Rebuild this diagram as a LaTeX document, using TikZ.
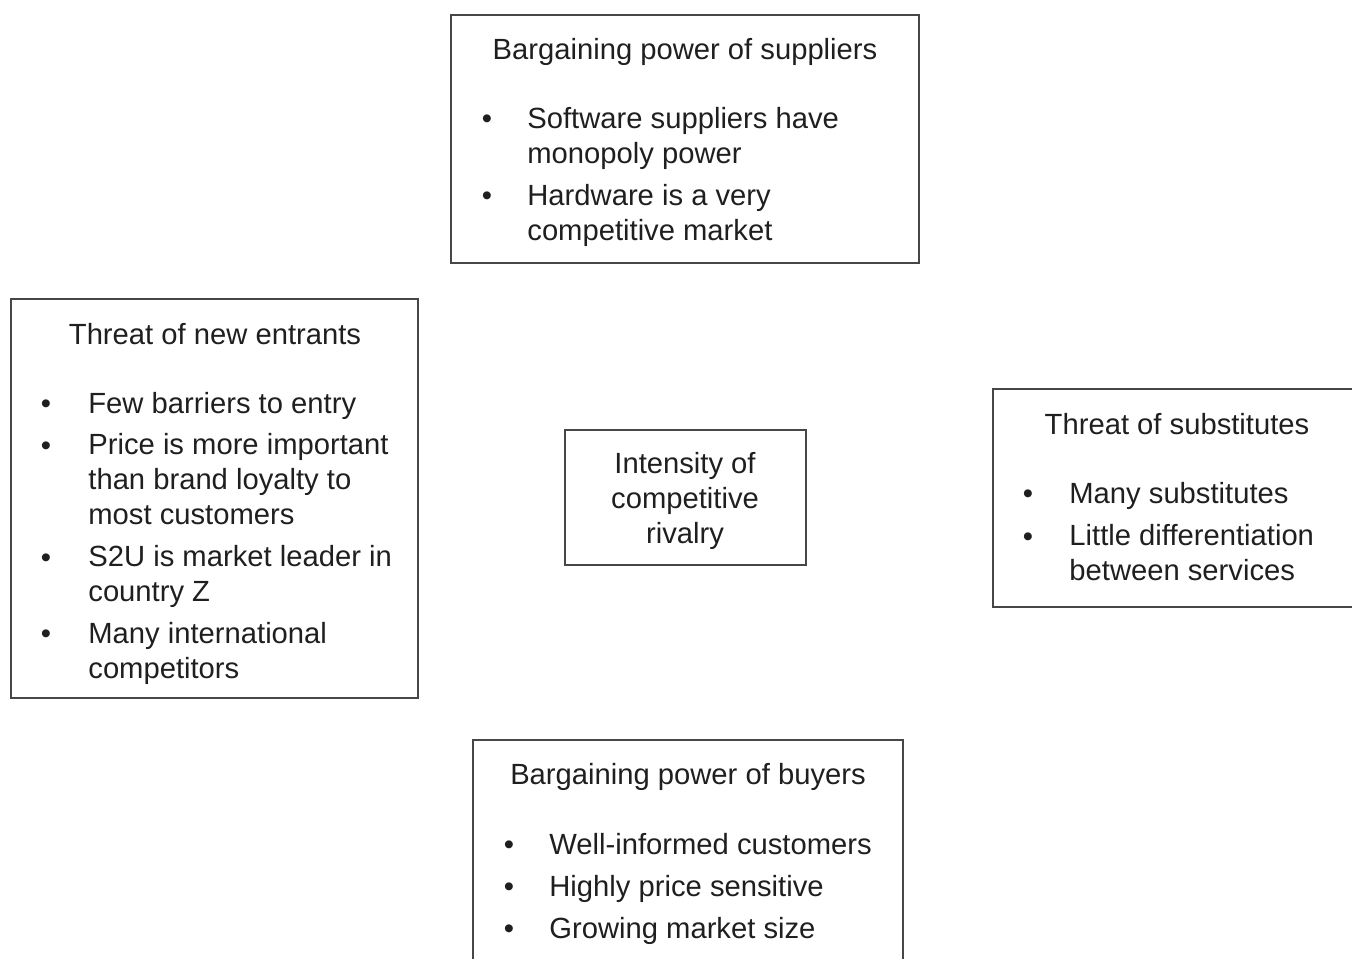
\documentclass[tikz,border=0pt]{standalone}
\usepackage{fontspec}
\setmainfont{Liberation Sans}
\usepackage{tikz}

\tikzset{
  boxline/.style={draw=black!72, line width=0.7pt},
  headtext/.style={anchor=base, inner sep=0pt, text=black!88, font=\fontsize{14.6}{17.5}\selectfont},
  % multi-line items are placed at the baseline of their last line
  itemtext/.style={anchor=base west, inner sep=0pt, align=left, text=black!88, font=\fontsize{14.6}{17.5}\selectfont},
  itemdot/.style={anchor=base, inner sep=0pt, text=black!88, font=\fontsize{14.6}{17.5}\selectfont},
}

\begin{document}
\begin{tikzpicture}[x=0.5pt,y=-0.5pt]
\useasboundingbox (0,0) rectangle (1352,958);
\clip (0,0) rectangle (1352,958);

%Shape: Rectangle [suppliers]
\draw [boxline] (451,15) rectangle (919,263);
%Shape: Rectangle [entrants]
\draw [boxline] (11,299) rectangle (418,698);
%Shape: Rectangle [rivalry]
\draw [boxline] (565,430) rectangle (806,565);
%Shape: Rectangle [substitutes]
\draw [boxline] (993,389) rectangle (1370,607);
%Shape: Rectangle [buyers]
\draw [boxline] (473,740) rectangle (903,980);

% Text Node
\node [headtext] (suppliershead) at (685,59) {Bargaining power of suppliers};
\node [itemdot] (suppliersdota) at (487,128) {\textbullet};
\node [itemtext] (suppliersa) at (527,163) {Software suppliers have\\monopoly power};
\node [itemdot] (suppliersdotb) at (487,205) {\textbullet};
\node [itemtext] (suppliersb) at (527,240) {Hardware is a very\\competitive market};

% Text Node
\node [headtext] (entrantshead) at (215,344) {Threat of new entrants};
\node [itemdot] (entrantsdota) at (46,413) {\textbullet};
\node [itemtext] (entrantsa) at (88,413) {Few barriers to entry};
\node [itemdot] (entrantsdotb) at (46,455) {\textbullet};
\node [itemtext] (entrantsb) at (88,524) {Price is more important\\than brand loyalty to\\most customers};
\node [itemdot] (entrantsdotc) at (46,567) {\textbullet};
\node [itemtext] (entrantsc) at (88,601) {S2U is market leader in\\country Z};
\node [itemdot] (entrantsdotd) at (46,643) {\textbullet};
\node [itemtext] (entrantsd) at (88,678) {Many international\\competitors};

% Text Node
\node [headtext] (rivalrya) at (685,473) {Intensity of};
\node [headtext] (rivalryb) at (685,508) {competitive};
\node [headtext] (rivalryc) at (685,543) {rivalry};

% Text Node
\node [headtext] (substituteshead) at (1177,434) {Threat of substitutes};
\node [itemdot] (substitutesdota) at (1028,503) {\textbullet};
\node [itemtext] (substitutesa) at (1069,503) {Many substitutes};
\node [itemdot] (substitutesdotb) at (1028,546) {\textbullet};
\node [itemtext] (substitutesb) at (1069,580) {Little differentiation\\between services};

% Text Node
\node [headtext] (buyershead) at (688,784) {Bargaining power of buyers};
\node [itemdot] (buyersdota) at (509,854) {\textbullet};
\node [itemtext] (buyersa) at (549,854) {Well-informed customers};
\node [itemdot] (buyersdotb) at (509,896) {\textbullet};
\node [itemtext] (buyersb) at (549,896) {Highly price sensitive};
\node [itemdot] (buyersdotc) at (509,938) {\textbullet};
\node [itemtext] (buyersc) at (549,938) {Growing market size};

\end{tikzpicture}
\end{document}
